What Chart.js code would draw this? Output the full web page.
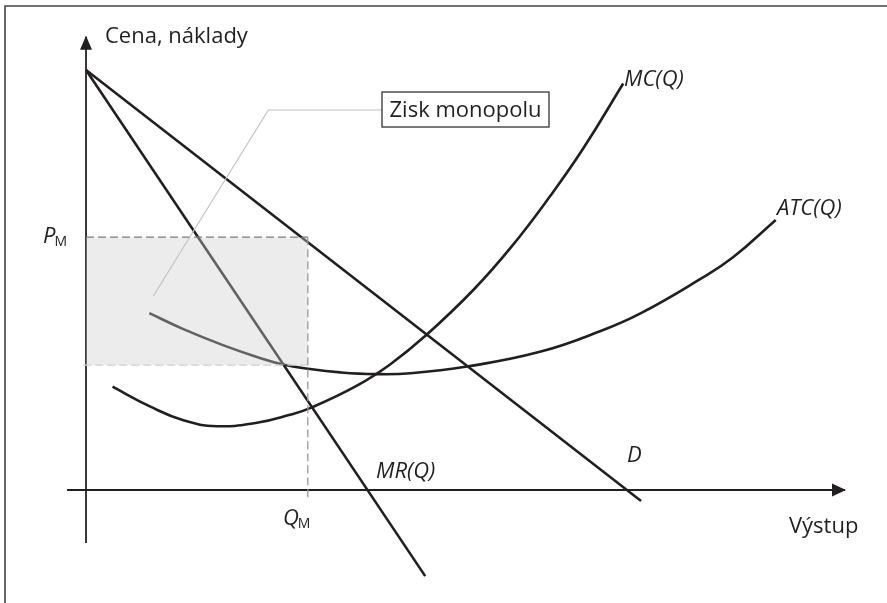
<!DOCTYPE html>
<html><head><meta charset="utf-8">
<script src="https://cdn.jsdelivr.net/npm/chart.js@4.4.1/dist/chart.umd.min.js"></script>
<style>html,body{margin:0;padding:0;background:#fff}#wrap{width:887px;height:603px;position:relative}</style>
</head><body><div id="wrap"><canvas id="c"></canvas></div>
<script>
// ---- data (output Q, price/cost P) ----
const demandQ = [0, 10.26];
const demandP = [10, -0.26];
const mrQ = [0, 6.27];
const mrP = [10, -2.05];
const mcQ = [0.49, 1.18, 1.80, 2.42, 3.16, 3.77, 4.14, 5.00, 5.62, 6.29, 7.15, 7.85, 8.58, 9.19, 9.93];
const mcP = [2.46, 1.99, 1.66, 1.52, 1.60, 1.79, 1.95, 2.48, 2.99, 3.69, 4.75, 5.77, 7.00, 8.13, 9.68];
const atcQ = [1.17, 1.80, 2.53, 3.20, 3.64, 4.14, 4.70, 5.34, 6.00, 7.04, 8.39, 9.50, 10.24, 11.35, 11.96, 12.75];
const atcP = [4.21, 3.83, 3.45, 3.15, 2.99, 2.88, 2.80, 2.76, 2.78, 2.94, 3.29, 3.78, 4.20, 5.02, 5.54, 6.43];
const priceM = 6.02;
const quantityM = 4.1;
const costM = 2.976;
const xAxisSpan = [-0.35, 14.03];
const yAxisSpan = [-1.26, 10.79];

const ink = '#231f20';
const zip = (xs, ys) => xs.map((x, i) => ({x, y: ys[i]}));
const FONT = '"Open Sans", "DejaVu Sans", sans-serif';

const line = (data, extra) => Object.assign({
  data, showLine: true, pointRadius: 0, borderColor: ink, borderWidth: 2.6,
  fill: false, tension: 0, borderCapStyle: 'butt'
}, extra);

const datasets = [
  line(zip(xAxisSpan, [0, 0]), {borderWidth: 2.2, order: 5}),
  line(zip([0, 0], yAxisSpan), {borderWidth: 1.8, order: 5}),
  line(zip(demandQ, demandP), {order: 3}),
  line(zip(mrQ, mrP), {order: 3}),
  line(zip(mcQ, mcP), {tension: 0.45, order: 3}),
  line(zip(atcQ, atcP), {tension: 0.45, order: 3}),
  // shaded profit rectangle (drawn over the curves)
  line(zip([0, quantityM], [priceM, priceM]), {borderWidth: 0, borderColor: 'rgba(0,0,0,0)',
    fill: {value: costM}, backgroundColor: 'rgba(205,205,205,0.38)', order: -1}),
  line(zip([0, quantityM], [priceM, priceM]), {borderWidth: 1.3, borderColor: '#7d7d7d', borderDash: [8, 4], order: -2}),
  line(zip([quantityM, quantityM], [priceM, -0.17]), {borderWidth: 1.3, borderColor: '#999', borderDash: [8, 4], order: -2}),
  line(zip([-0.05, quantityM], [costM, costM]), {borderWidth: 1.3, borderColor: '#cfcfcf', borderDash: [8, 4], order: -2}),
  // leader of the annotation
  line(zip([5.471, 3.370, 1.244], [9.048, 9.048, 4.619]), {borderWidth: 1.2, borderColor: '#c2c2c2', order: -3})
];

const textLabels = [
  {t: 'Cena, náklady', x: 0.351, y: 10.64, italic: false},
  {t: 'MC(Q)', x: 9.945, y: 9.619, italic: true},
  {t: 'ATC(Q)', x: 12.773, y: 6.548, italic: true},
  {t: 'MR(Q)', x: 5.36, y: 0.286, italic: true},
  {t: 'D', x: 10.0, y: 0.667, italic: true},
  {t: 'Výstup', x: 12.994, y: -1.024, italic: false}
];
const subLabels = [
  {t: 'P', s: 'M', x: -0.795, y: 5.881},
  {t: 'Q', s: 'M', x: 3.641, y: -0.833}
];
const box = {t: 'Zisk monopolu', x0: 5.471, x1: 8.558, y0: 9.476, y1: 8.643, base: 8.888};

const decor = {
  id: 'decor',
  beforeDraw(chart) {
    const c = chart.ctx;
    c.save();
    c.strokeStyle = '#444'; c.lineWidth = 1.6;
    c.beginPath(); c.moveTo(5, 603); c.lineTo(5, 6); c.lineTo(887, 6); c.stroke();
    c.restore();
  },
  afterDraw(chart) {
    const c = chart.ctx, xs = chart.scales.x, ys = chart.scales.y;
    const X = v => xs.getPixelForValue(v), Y = v => ys.getPixelForValue(v);
    c.save();
    c.fillStyle = ink;
    // arrowheads
    const xt = X(xAxisSpan[1]), y0 = Y(0);
    c.beginPath(); c.moveTo(xt + 1, y0); c.lineTo(xt - 13, y0 - 6.5); c.lineTo(xt - 13, y0 + 6.5); c.closePath(); c.fill();
    const yt = Y(yAxisSpan[1]), x0 = X(0);
    c.beginPath(); c.moveTo(x0, yt - 1); c.lineTo(x0 - 6, yt + 13); c.lineTo(x0 + 6, yt + 13); c.closePath(); c.fill();
    // labels
    c.textBaseline = 'alphabetic'; c.textAlign = 'left';
    textLabels.forEach(l => {
      c.font = (l.italic ? 'italic ' : '') + '22px ' + FONT;
      c.fillText(l.t, X(l.x), Y(l.y));
    });
    subLabels.forEach(l => {
      c.font = 'italic 22px ' + FONT;
      const w = c.measureText(l.t).width;
      c.fillText(l.t, X(l.x), Y(l.y));
      c.font = '14px ' + FONT;
      c.fillText(l.s, X(l.x) + w - 1, Y(l.y) + 3);
    });
    // annotation box
    const bx = X(box.x0), by = Y(box.y0), bw = X(box.x1) - bx, bh = Y(box.y1) - by;
    c.fillStyle = '#fff'; c.fillRect(bx, by, bw, bh);
    c.strokeStyle = '#333'; c.lineWidth = 1.3; c.strokeRect(bx, by, bw, bh);
    c.fillStyle = ink; c.font = '22px ' + FONT; c.textAlign = 'center';
    c.fillText(box.t, bx + bw / 2, Y(box.base));
    c.restore();
  }
};

new Chart(document.getElementById('c'), {
  type: 'scatter',
  data: {datasets},
  options: {
    responsive: true, maintainAspectRatio: false, animation: false,
    layout: {padding: 0},
    plugins: {legend: {display: false}, tooltip: {enabled: false}},
    scales: {
      x: {type: 'linear', display: false, min: -1.59, max: 14.806},
      y: {type: 'linear', display: false, min: -2.69, max: 11.667}
    }
  },
  plugins: [decor]
});
</script></body></html>
